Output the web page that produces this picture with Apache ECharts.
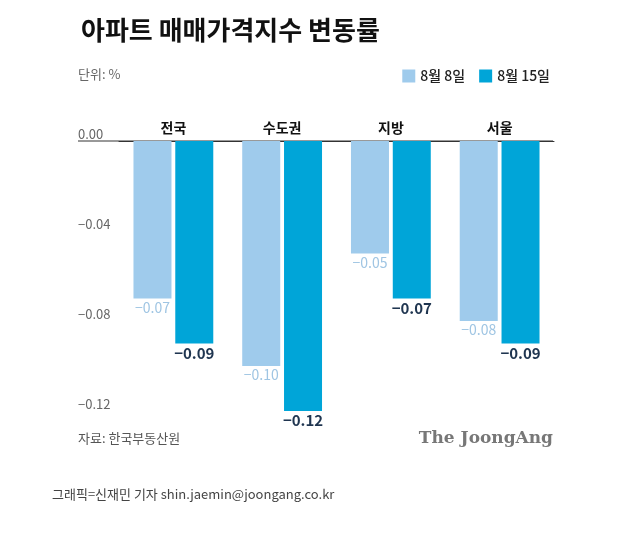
<!DOCTYPE html>
<html>
<head>
<meta charset="utf-8">
<script src="https://cdn.jsdelivr.net/npm/echarts@6/dist/echarts.min.js"></script>
<style>body{margin:0;background:#fff}#main{width:617px;height:533px}</style>
</head>
<body>
<div id="main"></div>
<script>
var categories = ['전국', '수도권', '지방', '서울'];
var aug8 = [-0.07, -0.10, -0.05, -0.08];
var aug15 = [-0.09, -0.12, -0.07, -0.09];
var seriesNames = ['8월 8일', '8월 15일'];
var font = 'Noto Sans CJK KR';

function fmt(v) { return v.toFixed(2).replace('-', '\u2212'); }

var chart = echarts.init(document.getElementById('main'));
chart.setOption({
    animation: false,
    textStyle: { fontFamily: font },
    title: {
        text: '아파트 매매가격지수 변동률', left: 76, top: 12,
        textStyle: { fontSize: 26, fontWeight: 'bold', color: '#111', fontFamily: font }
    },
    legend: {
        data: seriesNames, right: 62, top: 64, itemWidth: 13, itemHeight: 13, itemGap: 14,
        icon: 'rect', textStyle: { fontSize: 14, fontWeight: 500, color: '#222', fontFamily: font }
    },
    grid: { left: 119, right: 63, top: 141, bottom: 122 },
    xAxis: {
        type: 'category', position: 'top', data: categories,
        axisLine: { lineStyle: { color: '#333', width: 1 } },
        axisTick: { show: false },
        axisLabel: { fontSize: 14, fontWeight: 'bold', color: '#111', margin: 6 }
    },
    yAxis: {
        type: 'value', min: -0.12, max: 0, interval: 0.04,
        splitLine: { show: false },
        axisLabel: {
            align: 'left', margin: 41, verticalAlign: 'bottom', fontSize: 13, color: '#666',
            formatter: function (v) { return fmt(v); }
        }
    },
    graphic: [
        { type: 'line', shape: { x1: 78, y1: 141, x2: 553, y2: 141 }, style: { stroke: '#333', lineWidth: 1 } },
        { type: 'text', left: 78, top: 68, style: { text: '단위: %', fontSize: 13, fill: '#666', fontFamily: font } },
        { type: 'text', left: 78, top: 432, style: { text: '자료: 한국부동산원', fontSize: 13, fill: '#555', fontFamily: font } },
        { type: 'text', right: 64, top: 430, style: { text: 'The JoongAng', fontSize: 17, fontWeight: 'bold', fill: '#777', fontFamily: 'DejaVu Serif' } },
        { type: 'text', left: 52, top: 488, style: { text: '그래픽=신재민 기자 shin.jaemin@joongang.co.kr', fontSize: 13, fill: '#444', fontFamily: font } }
    ],
    series: [
        {
            name: seriesNames[0], type: 'bar', data: aug8, barWidth: 38, barGap: '10%',
            itemStyle: { color: '#9fcbec' },
            label: {
                show: true, position: 'bottom', distance: 2, fontSize: 14, color: '#9fc5e3',
                textBorderColor: '#fff', textBorderWidth: 3,
                formatter: function (p) { return fmt(p.value); }
            }
        },
        {
            name: seriesNames[1], type: 'bar', data: aug15, barWidth: 38,
            itemStyle: { color: '#00a5d8' },
            label: {
                show: true, position: 'bottom', distance: 2, fontSize: 15, fontWeight: 'bold', color: '#1f3550',
                textBorderColor: '#fff', textBorderWidth: 3,
                formatter: function (p) { return fmt(p.value); }
            }
        }
    ]
});
</script>
</body>
</html>
